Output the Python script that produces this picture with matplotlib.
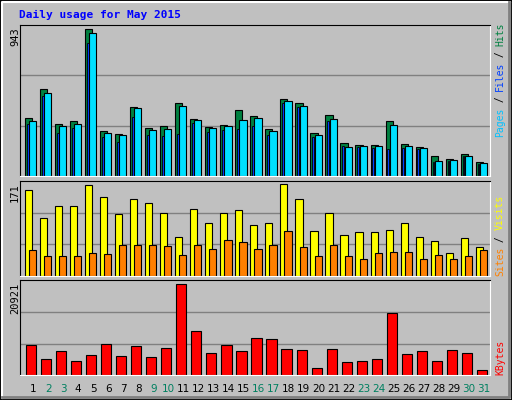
import matplotlib.pyplot as plt
from matplotlib.patches import Rectangle
import numpy as np

days = list(range(1, 32))
weekend = [2, 3, 9, 10, 16, 17, 23, 24, 30, 31]
hits = [372, 558, 334, 353, 943, 289, 269, 443, 308, 321, 468, 366, 314, 327, 423, 385,
        301, 494, 468, 276, 391, 212, 199, 199, 353, 205, 186, 128, 109, 141, 90]
files = [353, 532, 321, 334, 917, 276, 263, 436, 295, 301, 449, 359, 308, 321, 359, 372,
         289, 481, 449, 263, 366, 186, 192, 192, 327, 192, 180, 96, 103, 128, 83]
pages = [334, 513, 276, 308, 853, 250, 218, 378, 263, 257, 269, 340, 282, 295, 301, 321,
         263, 468, 443, 250, 353, 192, 186, 180, 173, 180, 173, 90, 96, 128, 77]
visits = [160, 108, 130, 130, 169, 147, 115, 143, 136, 117, 74, 125, 99, 117, 123, 95,
          99, 171, 143, 84, 117, 76, 82, 82, 87, 99, 74, 65, 43, 72, 54]
sites = [48, 37, 37, 37, 43, 41, 58, 58, 59, 56, 39, 59, 50, 67, 63, 50,
         59, 84, 54, 37, 59, 37, 32, 43, 45, 45, 32, 39, 32, 37, 48]
kbytes = [6897, 3678, 5517, 3218, 4598, 7127, 4368, 6667, 4138, 6207, 20921, 10115, 5058,
          6897, 5517, 8506, 8276, 5977, 5747, 1609, 5977, 2989, 3218, 3678, 14253, 4828,
          5517, 3218, 5747, 5058, 1149]

W, H = 512, 400
fig = plt.figure(figsize=(W / 100, H / 100), dpi=100, facecolor='#c0c0c0')
mono = 'DejaVu Sans Mono'

# 3d frame around the figure
fig.add_artist(Rectangle((0, 0), 1, 1, transform=fig.transFigure, fill=False,
                         edgecolor='black', lw=2))
fig.add_artist(plt.Line2D([2 / W, 2 / W, 1 - 2 / W], [2 / H, 1 - 2 / H, 1 - 2 / H],
                          transform=fig.transFigure, color='white', lw=1.5))
fig.add_artist(plt.Line2D([2 / W, 1 - 3 / W, 1 - 3 / W], [3 / H, 3 / H, 1 - 2 / H],
                          transform=fig.transFigure, color='#808080', lw=2))

fig.text(19 / W, 1 - 15 / H, 'Daily usage for May 2015', color='#0000ff',
         fontsize=8, fontweight='bold', family=mono, va='center')

x = np.array(days)


def panel(y0, y1, top):
    ax = fig.add_axes([20 / W, 1 - y1 / H, 470 / W, (y1 - y0) / H])
    ax.set_facecolor('#c0c0c0')
    ax.set_xlim(0, 31.31)
    ax.set_ylim(0, top)
    for v in (top / 3, 2 * top / 3):
        ax.axhline(v, color='#808080', lw=1, zorder=0)
    ax.set_xticks([])
    ax.set_yticks([])
    for s in ('left', 'top'):
        ax.spines[s].set_color('black')
    for s in ('right', 'bottom'):
        ax.spines[s].set_color('white')
    return ax


def side_label(parts, y_bottom):
    y = y_bottom
    for txt, col in parts:
        fig.text(500 / W, 1 - y / H, txt, color=col, rotation=90, family=mono,
                 fontsize=7, ha='center', va='bottom')
        y -= len(txt) * 5.7


ax1 = panel(25, 176, 943 * 151 / 147)
ax1.bar(x - 0.65, hits, width=0.47, align='edge', color='#008040', edgecolor='black', lw=0.8)
ax1.bar(x - 0.52, pages, width=0.13, align='edge', color='#0040ff', edgecolor='black', lw=0.6)
ax1.bar(x - 0.38, files, width=0.47, align='edge', color='#00e0ff', edgecolor='black', lw=0.8)
fig.text(15 / W, 1 - 27 / H, '943', rotation=90, family=mono, fontsize=7.5,
         ha='center', va='top')
side_label([('Pages', '#00c0ff'), (' / ', 'black'), ('Files', '#0040ff'),
            (' / ', 'black'), ('Hits', '#008040')], 137)

ax2 = panel(180.7, 276.3, 171 * 287 / 276)
ax2.bar(x - 0.65, visits, width=0.47, align='edge', color='#ffff00', edgecolor='black', lw=0.8)
ax2.bar(x - 0.38, sites, width=0.47, align='edge', color='#ff8000', edgecolor='black', lw=0.8)
fig.text(15 / W, 1 - 183 / H, '171', rotation=90, family=mono, fontsize=7.5,
         ha='center', va='top')
side_label([('Sites', '#ff8000'), (' / ', 'black'), ('Visits', '#ffff00')], 276)

ax3 = panel(280.3, 375.3, 20921 * 285 / 273)
ax3.bar(x - 0.58, kbytes, width=0.67, align='edge', color='#ff0000', edgecolor='black', lw=0.8)
fig.text(15 / W, 1 - 283 / H, '20921', rotation=90, family=mono, fontsize=7.5,
         ha='center', va='top')
side_label([('KBytes', '#ff0000')], 375)

for d in days:
    ax3.text(d - 0.12, -0.14, str(d), transform=ax3.get_xaxis_transform(),
             ha='center', va='center', fontsize=7.5,
             color='#008060' if d in weekend else 'black')

fig.savefig('out.png', dpi=100, facecolor=fig.get_facecolor())
